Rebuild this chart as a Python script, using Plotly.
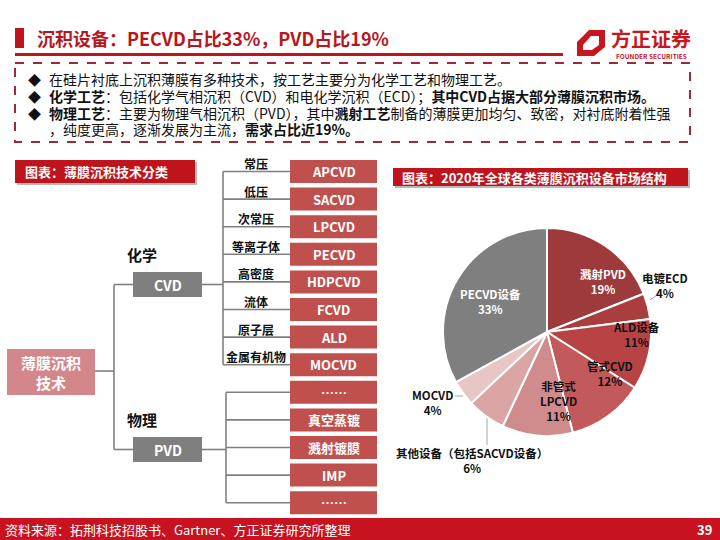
import plotly.graph_objects as go

W, H = 720, 540
FONT = "Noto Sans CJK SC"

# ---------------- text / data ----------------
title_text = "沉积设备：PECVD占比33%，PVD占比19%"
logo_cn = "方正证券"
logo_en = "FOUNDER SECURITIES"
bullet_lines = [
    "在硅片衬底上沉积薄膜有多种技术，按工艺主要分为化学工艺和物理工艺。",
    "<b>化学工艺</b>：包括化学气相沉积（CVD）和电化学沉积（ECD）；<b>其中CVD占据大部分薄膜沉积市场。</b>",
    "<b>物理工艺</b>：主要为物理气相沉积（PVD），其中<b>溅射工艺</b>制备的薄膜更加均匀、致密，对衬底附着性强",
    "，纯度更高，逐渐发展为主流，<b>需求占比近19%。</b>",
]
bullet_marks = [True, True, True, False]
left_header = "图表：薄膜沉积技术分类"
right_header = "图表：2020年全球各类薄膜沉积设备市场结构"
root_label = "薄膜沉积<br>技术"
branch_names = ["CVD", "PVD"]
branch_titles = ["化学", "物理"]
cvd_methods = ["APCVD", "SACVD", "LPCVD", "PECVD", "HDPCVD", "FCVD", "ALD", "MOCVD"]
cvd_conditions = ["常压", "低压", "次常压", "等离子体", "高密度", "流体", "原子层", "金属有机物"]
pvd_methods = ["……", "真空蒸镀", "溅射镀膜", "IMP", "……"]

pie_labels = ["溅射PVD", "电镀ECD", "ALD设备", "管式CVD", "非管式<br>LPCVD",
              "其他设备（包括SACVD设备）", "MOCVD", "PECVD设备"]
pie_values = [19, 4, 11, 12, 11, 6, 4, 33]
pie_colors = ["#9d3a3c", "#aa3e3f", "#b84345", "#c25a5b", "#d08b8c",
              "#dba4a5", "#e8c6c6", "#7f7f7f"]
pie_text_colors = ["white", "#111111", "#111111", "#111111", "#111111",
                   "#111111", "#111111", "white"]
# label anchor positions (pixels) for each slice label
pie_label_pos = [(603, 281), (665, 285), (636, 334), (610, 373), (558, 401),
                 (472, 460), (432, 402), (490, 301)]

source_text = "资料来源：拓荆科技招股书、Gartner、方正证券研究所整理"
page_no = "39"

RED = "#c0141c"
BOX_RED = "#c0504d"
GRAY = "#7f7f7f"
LINE_GRAY = "#808080"

fig = go.Figure()
shapes = []
ann = []


def rect(x0, y0, x1, y1, fill, line_color=None, lw=0, dash=None, layer="below"):
    d = dict(type="rect", xref="x", yref="y", x0=x0, y0=y0, x1=x1, y1=y1,
             fillcolor=fill, layer=layer,
             line=dict(color=line_color or fill, width=lw))
    if dash:
        d["line"]["dash"] = dash
    shapes.append(d)


def line(x0, y0, x1, y1, color=LINE_GRAY, w=1.6):
    shapes.append(dict(type="line", xref="x", yref="y", x0=x0, y0=y0, x1=x1, y1=y1,
                       line=dict(color=color, width=w), layer="below"))


def text(x, y, s, size=12, color="#111111", xanchor="center", bold=False, family=FONT):
    ann.append(dict(x=x, y=y, xref="x", yref="y", text=("<b>%s</b>" % s) if bold else s,
                    showarrow=False, xanchor=xanchor, yanchor="middle",
                    font=dict(family=family, size=size, color=color)))


# ---------------- header ----------------
rect(15, 28, 24, 48, RED)
text(35, 38, title_text, size=18, color="#b8161e", xanchor="left", bold=True)
line(15, 54.5, 563, 54.5, color=RED, w=3)

# logo
shapes.append(dict(type="path", xref="x", yref="y", layer="above",
                   path="M577,42 L589,30 L605,30 L605,47 L594,56 L577,56 Z "
                        "M583,45 L583,50 L592,50 L599,45 L599,36 L591,36 Z",
                   fillcolor="#c8161e", line=dict(width=0)))
text(651, 38, logo_cn, size=20, color="#c8161e", bold=True)
text(651, 56, logo_en, size=6.5, color="#c8161e", bold=True)

# dashed box
rect(15, 63, 690, 142, "rgba(0,0,0,0)", line_color="#9b2a3a", lw=2, dash="dash")
line_y = [79, 96, 113, 129]
for yy, s, mark in zip(line_y, bullet_lines, bullet_marks):
    if mark:
        text(26, yy, "◆", size=13, color="#111111", xanchor="left")
    text(47, yy, s, size=14, color="#111111", xanchor="left")

# ---------------- left diagram ----------------
# header box
rect(17, 162, 197, 185, "#b9b9b9")
rect(15, 160, 195, 183, RED)
text(23, 171.5, left_header, size=13, color="white", xanchor="left", bold=True)

BX0, BX1 = 290, 377
TOP0, STEP, BH = 160, 27.6, 23
all_methods = cvd_methods + pvd_methods
centers = []
for i, m in enumerate(all_methods):
    t = TOP0 + i * STEP
    rect(BX0, t, BX1, t + BH, BOX_RED)
    text((BX0 + BX1) / 2, t + BH / 2, m, size=13, color="white", bold=True)
    centers.append(t + BH / 2)

# CVD connectors
cvd_vx = 223
cvd_c = centers[:len(cvd_methods)]
line(cvd_vx, cvd_c[0], cvd_vx, cvd_c[-1])
for c, lab in zip(cvd_c, cvd_conditions):
    line(cvd_vx, c, BX0, c)
    text(256, c - 8, lab, size=12, color="#111111", bold=True)

# PVD connectors
pvd_vx = 226
pvd_c = centers[len(cvd_methods):]
line(pvd_vx, pvd_c[0], pvd_vx, pvd_c[-1])
for c in pvd_c:
    line(pvd_vx, c, BX0, c)

# branch boxes
branch_y = [284.5, 449.5]
branch_vx = [cvd_vx, pvd_vx]
for name, ttl, cy, vx in zip(branch_names, branch_titles, branch_y, branch_vx):
    rect(133, cy - 12.5, 202, cy + 12.5, GRAY)
    text(167.5, cy, name, size=14, color="white", bold=True)
    text(142, cy - 30, ttl, size=15, color="#111111", bold=True)
    line(202, cy, vx, cy)
    line(114, cy, 133, cy)
line(114, branch_y[0], 114, branch_y[1])

# root box
rect(7, 349, 95, 395, "#d4878a")
text(51, 372, root_label, size=15, color="white", bold=True)
line(95, 371, 114, 371)

# ---------------- right: pie ----------------
rect(395, 170, 690, 188, "#b9b9b9")
rect(393, 168, 688, 186, RED)
text(400, 177, right_header, size=13, color="white", xanchor="left", bold=True)

CX, CY, R = 547, 332, 104
fig.add_trace(go.Pie(
    labels=[l.replace("<br>", "") for l in pie_labels], values=pie_values,
    sort=False, direction="clockwise", rotation=0,
    marker=dict(colors=pie_colors, line=dict(color="white", width=2)),
    textinfo="none", hoverinfo="label+percent", showlegend=False,
    domain=dict(x=[(CX - R) / W, (CX + R) / W], y=[1 - (CY + R) / H, 1 - (CY - R) / H]),
))
for lab, v, (px, py), col in zip(pie_labels, pie_values, pie_label_pos, pie_text_colors):
    text(px, py, "%s<br>%d%%" % (lab, v), size=11.5, color=col, bold=True)

# leader lines
line(650, 300, 657, 295, color="#a6a6a6", w=1)
line(463, 396, 455, 396, color="#a6a6a6", w=1)
line(487, 418, 487, 445, color="#a6a6a6", w=1)

# ---------------- footer ----------------
rect(0, 518, 720, 540, "#c8121f")
text(3, 529, source_text, size=13, color="white", xanchor="left")
text(714, 529, page_no, size=13, color="white", xanchor="right", bold=True)

fig.update_layout(
    width=W, height=H, margin=dict(l=0, r=0, t=0, b=0),
    paper_bgcolor="white", plot_bgcolor="white",
    xaxis=dict(range=[0, W], visible=False, fixedrange=True),
    yaxis=dict(range=[H, 0], visible=False, fixedrange=True),
    shapes=shapes, annotations=ann,
    font=dict(family=FONT),
)
fig.write_html("out.html", config={"displayModeBar": False},
               post_script="document.body.style.margin='0px';document.body.style.overflow='hidden';")
